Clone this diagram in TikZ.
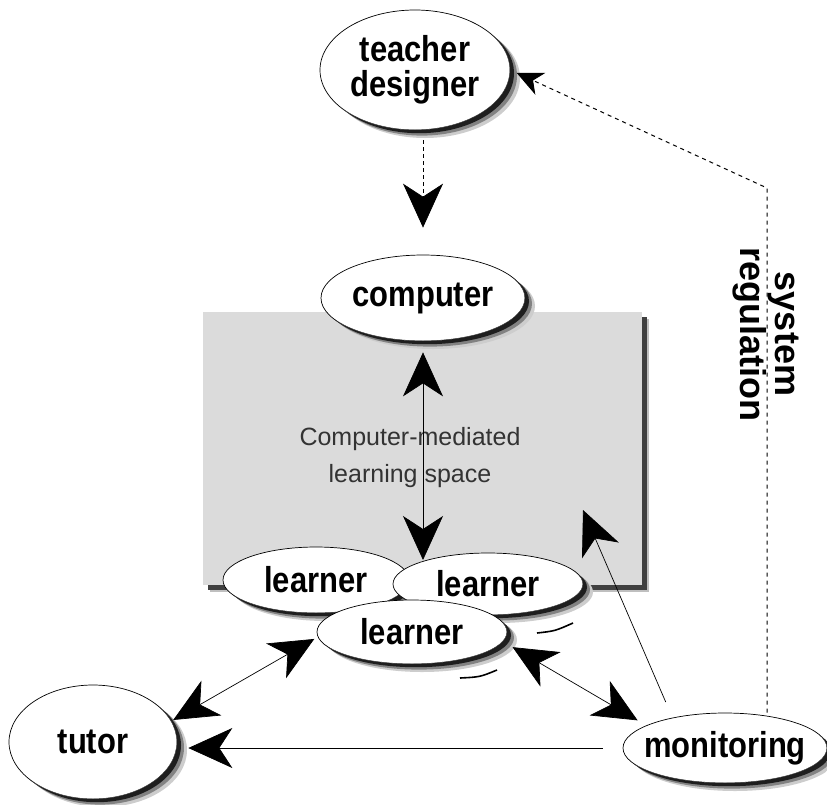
\documentclass[tikz,border=0pt]{standalone}
\usepackage{fontspec}
\setmainfont{Liberation Sans}
\newfontfamily\lblfont[FakeStretch=0.86]{Liberation Sans}
\usetikzlibrary{shapes.geometric,arrows.meta}

\definecolor{shadeA}{RGB}{205,205,205}
\definecolor{shadeB}{RGB}{130,130,130}
\definecolor{shadeC}{RGB}{30,30,30}

% soft shadow crescent on the lower right of an ellipse centred at (#1,#2)
% with radii #3, #4; drawn just after the ellipse itself
\newcommand\rimshade[4]{%
  \begin{scope}[shift={(#1,#2)}]
    \begin{scope}
      \clip (10,8) ellipse [x radius=#3pt, y radius=#4pt];
      \fill[shadeA, even odd rule] (-#3-30,-#4-30) rectangle (#3+30,#4+30)
        (0,0) ellipse [x radius=#3pt, y radius=#4pt];
    \end{scope}
    \begin{scope}
      \clip (7,5.6) ellipse [x radius=#3pt, y radius=#4pt];
      \fill[shadeB, even odd rule] (-#3-30,-#4-30) rectangle (#3+30,#4+30)
        (0,0) ellipse [x radius=#3pt, y radius=#4pt];
    \end{scope}
    \begin{scope}
      \clip (4,3.2) ellipse [x radius=#3pt, y radius=#4pt];
      \fill[shadeC, even odd rule] (-#3-30,-#4-30) rectangle (#3+30,#4+30)
        (0,0) ellipse [x radius=#3pt, y radius=#4pt];
    \end{scope}
  \end{scope}}

\begin{document}
\begin{tikzpicture}[x=1pt,y=-1pt,
  every node/.style={inner sep=0pt},
  bubble/.style={ellipse, draw=black, line width=0.7pt, fill=white,
    font=\lblfont\bfseries\fontsize{36}{35}\selectfont, align=center},
  bighead/.style={-{Stealth[length=44pt,width=40pt,inset=13pt]}},
  twohead/.style={{Stealth[length=44pt,width=40pt,inset=13pt]}-{Stealth[length=44pt,width=40pt,inset=13pt]}},
  link/.style={draw=black, line width=0.7pt},
  regline/.style={draw=black, line width=1pt, dash pattern=on 4pt off 4pt},
]
\useasboundingbox (0,0) rectangle (827,804);

% learning space with its dark edge shadow
\fill[black!25] (210,319) rectangle (649,592);
\fill[black!75] (208,317) rectangle (647,590);
\node[rectangle, fill=black!14, minimum width=439pt, minimum height=273pt] (space) at (422.5,448.5) {};
\node[font=\fontsize{25}{37}\selectfont, text=black!80, align=center] (cmtext) at (410,458)
  {Computer-mediated\\learning space};

% actors
\node[bubble, minimum width=190pt, minimum height=120pt] (teacher) at (415,70) {teacher\\designer};
\rimshade{415}{70}{95}{60}
\node[bubble, minimum width=204pt, minimum height=86pt] (computer) at (423,298) {computer};
\rimshade{423}{298}{102}{43}
\node[bubble, minimum width=186pt, minimum height=66pt] (learnerA) at (316,580) {learner};
\rimshade{316}{580}{93}{33}
\node[bubble, minimum width=190pt, minimum height=62pt] (learnerB) at (488,584) {learner};
\rimshade{488}{584}{95}{31}
\node[bubble, minimum width=190pt, minimum height=64pt] (learnerC) at (412,632) {learner};
\rimshade{412}{632}{95}{32}
\node[bubble, minimum width=168pt, minimum height=114pt] (tutor) at (93,742) {tutor};
\rimshade{93}{742}{84}{57}
\node[bubble, inner xsep=-15pt, minimum width=204pt, minimum height=70pt] (monitoring) at (725,748) {monitoring};
\rimshade{725}{748}{102}{35}

% stray shadow arcs under the learner group
\draw[line width=1.6pt] (537,633) .. controls (555,631) .. (573,623);
\draw[line width=1.6pt] (460,678) .. controls (480,677) .. (497,670);

% connectors
\coordinate (meet) at (423,560);
\coordinate (boxin) at (583,510);
\coordinate (bend) at (767,188);

\draw[link, dash pattern=on 4pt off 3pt, bighead, shorten <=10pt, shorten >=27pt]
  (teacher.south -| computer.north) -- (computer.north);
\draw[link, twohead, shorten <=11pt] (computer.south) -- (meet);
\draw[link, twohead, shorten <=2pt, shorten >=4pt] (tutor.15) -- (learnerC.183);
\draw[link, bighead, shorten <=20pt, shorten >=11pt] (monitoring.west) -- (monitoring.west -| tutor.east);
\draw[link, twohead, shorten <=11pt, shorten >=10pt] (learnerC.-6) -- (monitoring.164);
\draw[link, bighead, shorten <=17pt] (monitoring.150) -- (boxin);
\draw[regline, -{Stealth[length=26pt,width=24pt,inset=8pt]}, shorten >=7pt]
  (monitoring.north -| bend) -- (bend) -- (teacher.east);

\node[rotate=-90, font=\bfseries\fontsize{36}{35}\selectfont, align=center] (reg) at (766,334)
  {system\\regulation};
\end{tikzpicture}
\end{document}
